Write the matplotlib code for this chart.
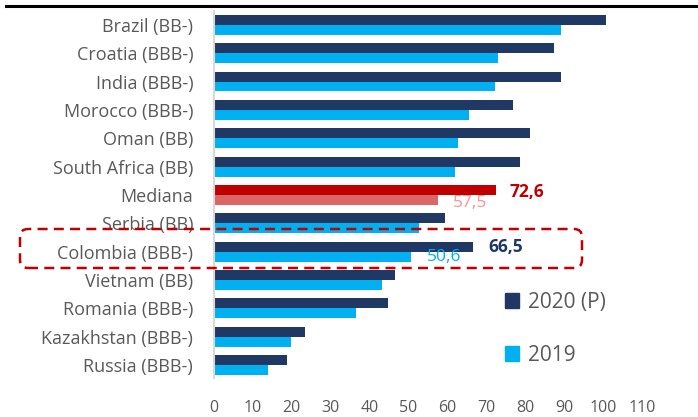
import matplotlib
matplotlib.use("Agg")
import matplotlib.pyplot as plt
from matplotlib.patches import Patch, FancyBboxPatch
from matplotlib.lines import Line2D

plt.rcParams['font.family'] = ['Open Sans', 'DejaVu Sans']

# Data
countries = ["Brazil (BB-)", "Croatia (BBB-)", "India (BBB-)", "Morocco (BBB-)",
             "Oman (BB)", "South Africa (BB)", "Mediana", "Serbia (BB)",
             "Colombia (BBB-)", "Vietnam (BB)", "Romania (BBB-)",
             "Kazakhstan (BBB-)", "Russia (BBB-)"]
val_2020 = [100.8, 87.4, 89.1, 76.8, 81.3, 78.6, 72.6, 59.4, 66.5, 46.4, 44.7, 23.3, 18.8]
val_2019 = [89.2, 73.0, 72.1, 65.5, 62.8, 62.0, 57.5, 52.6, 50.6, 43.3, 36.6, 19.8, 13.8]
xticks = [0, 10, 20, 30, 40, 50, 60, 70, 80, 90, 100, 110]

navy = "#203864"
cyan = "#00B0F0"
red = "#C00000"
light_red = "#DA6666"
gray = "#595959"

fig = plt.figure(figsize=(6.98, 4.17), dpi=100)
ax = fig.add_axes([214 / 698, 39 / 417, 428 / 698, 367 / 417])

h = 0.35
y = list(range(len(countries)))
c20 = [red if c == "Mediana" else navy for c in countries]
c19 = [light_red if c == "Mediana" else cyan for c in countries]
ax.barh([i - h / 2 for i in y], val_2020, height=h, color=c20)
ax.barh([i + h / 2 for i in y], val_2019, height=h, color=c19)

ax.set_xlim(0, 110)
ax.set_ylim(12.46, -0.49)
ax.set_yticks(y)
ax.set_yticklabels(countries, fontsize=13, color=gray)
ax.set_xticks(xticks)
ax.set_xticklabels([str(t) for t in xticks], fontsize=11.5, color=gray)
ax.tick_params(axis="y", length=0, pad=15)
ax.tick_params(axis="x", length=0, pad=16)
for s in ["top", "right", "bottom"]:
    ax.spines[s].set_visible(False)
ax.spines["left"].set_color("#D9D9D9")
ax.spines["left"].set_linewidth(1.5)

# value labels for Mediana and Colombia
ax.text(80.4, 5.89, "72,6", color=red, fontsize=12.5, fontweight="bold", ha="center", va="center")
ax.text(65.8, 6.28, "57,5", color="#FF8F8F", fontsize=12.5, ha="center", va="center")
ax.text(75.0, 7.84, "66,5", color=navy, fontsize=12.5, fontweight="bold", ha="center", va="center")
ax.text(59.1, 8.19, "50,6", color=cyan, fontsize=12.5, ha="center", va="center")

# dashed highlight box around Colombia (pixel coords)
box = FancyBboxPatch((20, 417 - 268), 562, 39, boxstyle="round,pad=0,rounding_size=8",
                     transform=None, fill=False, edgecolor=red, linestyle=(0, (4, 2.5)),
                     linewidth=1.8)
fig.add_artist(box)

# top rule
fig.add_artist(Line2D([6 / 698, 1], [411 / 417, 411 / 417], color="black", linewidth=2.2))

handles = [Patch(color=navy), Patch(color=cyan)]
leg = fig.legend(handles, ["2020 (P)", "2019"], loc="upper left",
                 bbox_to_anchor=(486 / 698, 1 - 273 / 417), frameon=False,
                 handlelength=0.7, handleheight=0.7, handletextpad=0.4,
                 labelspacing=1.55, fontsize=15)
for t in leg.get_texts():
    t.set_color(gray)

fig.savefig("out.png", dpi=100)
